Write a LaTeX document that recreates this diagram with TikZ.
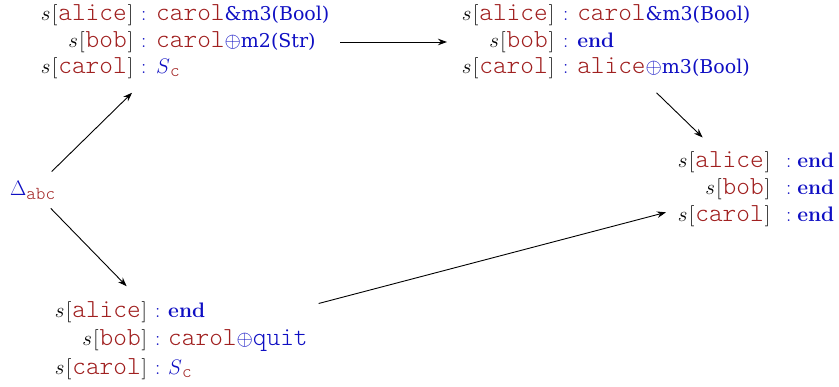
\documentclass[tikz,border=0pt]{standalone}
\usepackage{fix-cm}
\usepackage{amsmath}
\usepackage{array}
\usepackage{fontspec}
\setmonofont{lmmonolt10-regular.otf}[Scale=1.24]
\newfontfamily\dvs{DejaVu Serif}[Scale=0.905]
\usetikzlibrary{arrows.meta}
\definecolor{rolered}{RGB}{160,32,32}
\definecolor{kwblue}{RGB}{15,15,195}
\newcommand\rl[1]{\textcolor{rolered}{\texttt{#1}}}
\newcommand\kw[1]{\textcolor{kwblue}{#1}}
\newcommand\prt[1]{$s$\kern1.5pt[\kern1pt\rl{#1}\kern1pt]}
\newcommand\ty[2]{\hspace{#1}\textcolor{kwblue}{:}\hspace{#2}}
\newcommand\kend{\kw{\textbf{end}}}
\tikzset{
  state/.style={inner sep=11pt, outer sep=0pt, anchor=west},
  arr/.style={-{Stealth[length=9pt,width=6.5pt]}, line width=0.9pt}
}
\begin{document}
\begin{tikzpicture}[x=1pt,y=-1pt]
\useasboundingbox (0,0) rectangle (839,387);
\node[state, font=\fontsize{21}{26.5}\selectfont] (A) at (27,42) {\begin{tabular}{@{}w{r}{95pt}@{\ty{8pt}{10pt}}l@{}}
\prt{alice} & \rl{carol}\kw{\dvs\&m3(Bool)}\\
\prt{bob} & \rl{carol}\kw{$\oplus${\dvs m2(Str)}}\\
\prt{carol} & $\kw{S}_{\text{\rl{c}}}$
\end{tabular}};
\node[state, font=\fontsize{21}{26.5}\selectfont] (B) at (447,42) {\begin{tabular}{@{}w{r}{96pt}@{\ty{9pt}{9pt}}l@{}}
\prt{alice} & \rl{carol}\kw{\dvs\&m3(Bool)}\\
\prt{bob} & \kend\\
\prt{carol} & \rl{alice}\kw{$\oplus${\dvs m3(Bool)}}
\end{tabular}};
\node[state, font=\fontsize{21}{27}\selectfont] (C) at (666,189) {\begin{tabular}{@{}w{r}{93pt}@{\ty{16pt}{6pt}}l@{}}
\prt{alice} & \kend\\
\prt{bob} & \kend\\
\prt{carol} & \kend
\end{tabular}};
\node[state, font=\fontsize{21}{28.5}\selectfont] (D) at (39,340) {\begin{tabular}{@{}w{r}{97pt}@{\ty{8pt}{8pt}}l@{}}
\prt{alice} & \kend\\
\prt{bob} & \rl{carol}\kw{$\oplus$\texttt{quit}}\\
\prt{carol} & $\kw{S}_{\text{\rl{c}}}$
\end{tabular}};
\node[inner sep=9pt, anchor=west, font=\fontsize{21}{26}\selectfont] (delta) at (1,190) {$\kw{\Delta}_{\text{\rl{abc}}}$};
\draw[arr] (delta) -- (A);
\draw[arr] (delta) -- (D);
\draw[arr] (A) -- (B);
\draw[arr] (B) -- (C);
\draw[arr] (D) -- (C);
\end{tikzpicture}
\end{document}
